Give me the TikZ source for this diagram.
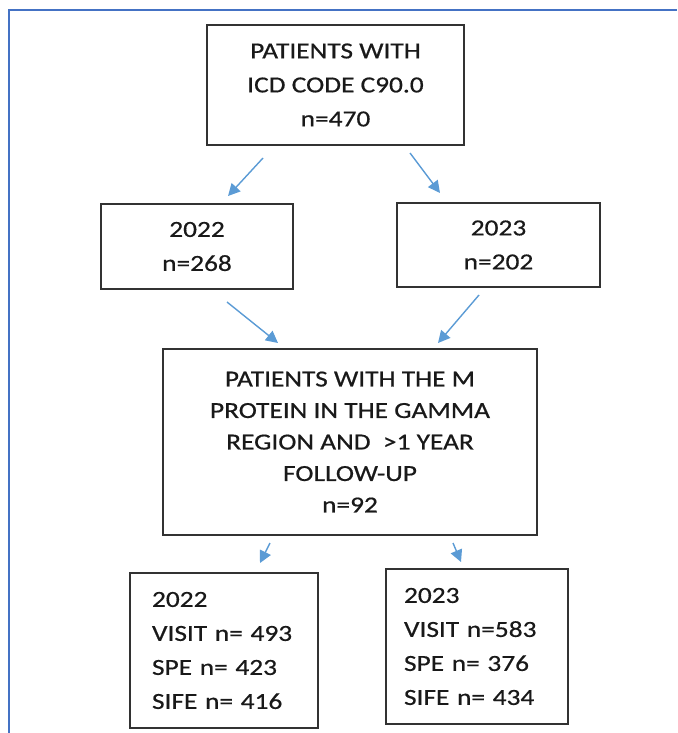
\documentclass[tikz,border=0pt]{standalone}
\usepackage{fontspec}
\setmainfont{Carlito}[FakeStretch=1.19,FakeBold=0.6]
\usetikzlibrary{arrows.meta}
\definecolor{framecol}{RGB}{68,114,196}
\definecolor{arrowcol}{RGB}{91,155,213}
\definecolor{boxcol}{RGB}{50,50,50}
\definecolor{txtcol}{RGB}{25,25,25}
\tikzset{
  box/.style={draw=boxcol, line width=1.7pt, rectangle, inner sep=0pt, text=txtcol,
              font=\fontsize{23}{34}\selectfont, align=center},
  listbox/.style={box, align=left},
  flow/.style={draw=arrowcol, line width=1.4pt, -{Triangle[length=12pt,width=12pt]}},
  framestyle/.style={draw=framecol, line width=1.2pt}
}
\begin{document}
\begin{tikzpicture}[x=1pt, y=-1pt]
\useasboundingbox (0,0) rectangle (677,733);
% outer frame (top and left)
\draw[framestyle] (9,733) -- (9,10) -- (677,10);

\node[box, minimum width=257pt, minimum height=120pt] (top) at (335.5,85)
  {PATIENTS WITH\\ICD CODE C90.0\\n=470};
\node[box, minimum width=192pt, minimum height=85pt] (y22) at (197,246.5)
  {2022\\n=268};
\node[box, minimum width=203pt, minimum height=84pt] (y23) at (498.5,245)
  {2023\\n=202};
\node[box, minimum width=374pt, minimum height=186pt,
      font=\fontsize{23}{31.5}\selectfont] (mid) at (350,442)
  {PATIENTS WITH THE M\\PROTEIN IN THE GAMMA\\REGION AND\ \ >1 YEAR\\FOLLOW-UP\\n=92};
\node[listbox, inner xsep=22pt, text width=144pt, minimum height=155pt] (b22) at (224,650.5)
  {2022\\VISIT n= 493\\SPE n= 423\\SIFE n= 416};
\node[listbox, inner xsep=18pt, text width=146pt, minimum height=155pt] (b23) at (477,646.5)
  {2023\\VISIT n=583\\SPE n= 376\\SIFE n= 434};

% arrow end points
\coordinate (a1s) at (263,158); \coordinate (a1e) at (228,196);
\coordinate (a2s) at (410,153); \coordinate (a2e) at (440,193);
\coordinate (a3s) at (227,302); \coordinate (a3e) at (278,343);
\coordinate (a4s) at (479,295); \coordinate (a4e) at (438,343);
\coordinate (a5s) at (270,543); \coordinate (a5e) at (260,563);
\coordinate (a6s) at (453,543); \coordinate (a6e) at (461,562);

\draw[flow] (a1s) -- (a1e);
\draw[flow] (a2s) -- (a2e);
\draw[flow] (a3s) -- (a3e);
\draw[flow] (a4s) -- (a4e);
\draw[flow] (a5s) -- (a5e);
\draw[flow] (a6s) -- (a6e);
\end{tikzpicture}
\end{document}
